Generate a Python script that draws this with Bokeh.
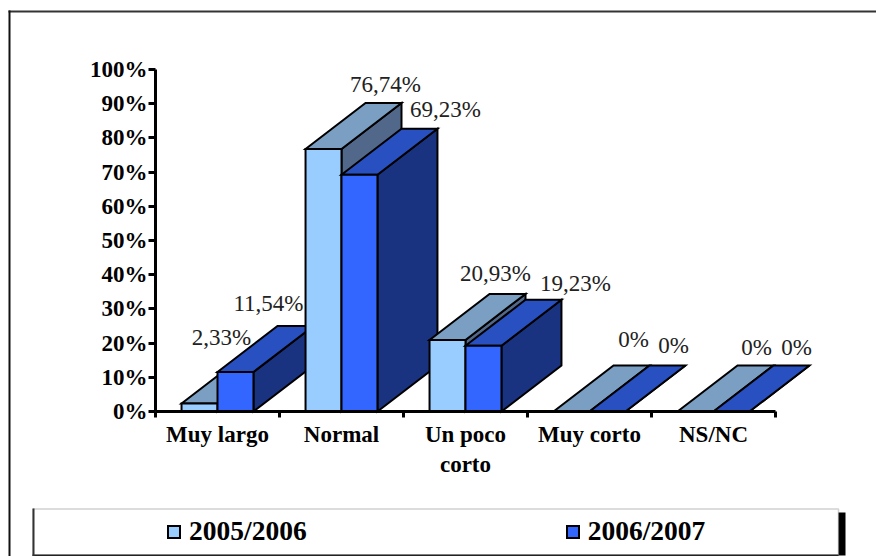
from bokeh.plotting import figure
from bokeh.embed import file_html
from bokeh.resources import INLINE
from bokeh.models import (ColumnDataSource, FixedTicker, PrintfTickFormatter, BoxAnnotation,
                          Legend, LegendItem, Range1d)
from bokeh.core.properties import value

categories = ["Muy largo", "Normal", "Un poco\ncorto", "Muy corto", "NS/NC"]
series_names = ["2005/2006", "2006/2007"]
values_2005 = [2.33, 76.74, 20.93, 0, 0]
values_2006 = [11.54, 69.23, 19.23, 0, 0]
labels_2005 = ["2,33%", "76,74%", "20,93%", "0%", "0%"]
labels_2006 = ["11,54%", "69,23%", "19,23%", "0%", "0%"]
y_ticks = [0, 10, 20, 30, 40, 50, 60, 70, 80, 90, 100]

# layout
W, H = 876, 556
LEFT, ZERO_Y, PX_UNIT_X, PX_UNIT_Y = 155, 411, 124, 3.42
GAP, BAR = 0.21, 0.29
DX, DY = 60 / PX_UNIT_X, 46 / PX_UNIT_Y
SERIF = "Liberation Serif"

FRONT = ["#99CCFF", "#3366FF"]
TOP = ["#7A9FC2", "#2850C0"]
SIDE = ["#52688A", "#1A3380"]

label_dx = [[22, 62, 48, 62, 61], [33, 86, 92, 66, 65]]
label_dy = [[-66, -65, -66, -72, -64], [-69, -65, -62, -66, -64]]

p = figure(width=W, height=H, output_backend="svg", toolbar_location=None,
           x_range=Range1d(-LEFT / PX_UNIT_X, (W - LEFT) / PX_UNIT_X),
           y_range=Range1d((ZERO_Y - H) / PX_UNIT_Y, ZERO_Y / PX_UNIT_Y),
           min_border=0, outline_line_color=None, background_fill_color="white")
p.grid.visible = False


def box(left, right, top, bottom, fill, line=None, lw=1):
    # page pixels -> frame-relative screen units (y counted from the bottom)
    p.add_layout(BoxAnnotation(left=left, right=right, top=H - top, bottom=H - bottom,
                               left_units="screen", right_units="screen",
                               top_units="screen", bottom_units="screen",
                               fill_color=fill, fill_alpha=1, line_color=line, line_width=lw,
                               editable=False))


# 3-D columns, painted back to front in one patches renderer
xs, ys, fills = [], [], []
front_index = [None, None]
all_values = [values_2005, values_2006]
for i in range(len(categories)):
    for s, vals in enumerate(all_values):
        v = vals[i]
        x0 = i + GAP + BAR * s
        x1 = x0 + BAR
        xs.append([x1, x1 + DX, x1 + DX, x1]); ys.append([0, DY, v + DY, v]); fills.append(SIDE[s])
        xs.append([x0, x0 + DX, x1 + DX, x1]); ys.append([v, v + DY, v + DY, v]); fills.append(TOP[s])
        xs.append([x0, x1, x1, x0]); ys.append([0, 0, v, v]); fills.append(FRONT[s])
        if i == 0:
            front_index[s] = len(xs) - 1
faces = p.patches(xs="xs", ys="ys", fill_color="fill",
                  source=ColumnDataSource(dict(xs=xs, ys=ys, fill=fills)),
                  line_color="black", line_width=2, line_join="miter")

# value labels
lx, ly, lt, ldx, ldy = [], [], [], [], []
for s, (vals, labs) in enumerate(zip(all_values, [labels_2005, labels_2006])):
    for i in range(len(categories)):
        lx.append(i + GAP + BAR * (s + 0.5)); ly.append(vals[i]); lt.append(labs[i])
        ldx.append(label_dx[s][i]); ldy.append(label_dy[s][i])
p.text(x="x", y="y", text="t", x_offset="dx", y_offset="dy",
       source=ColumnDataSource(dict(x=lx, y=ly, t=lt, dx=ldx, dy=ldy)),
       text_font=value(SERIF), text_font_size="23px", text_color="#222222",
       text_align="center", text_baseline="alphabetic")

# axes
ya = p.yaxis[0]
ya.fixed_location = 0
ya.ticker = FixedTicker(ticks=y_ticks)
ya.formatter = PrintfTickFormatter(format="%d%%")
ya.bounds = (0, 100)
ya.axis_line_width = 3
ya.axis_line_color = "black"
ya.major_tick_line_width = 3
ya.major_tick_in = 0
ya.major_tick_out = 7
ya.minor_tick_line_color = None
ya.major_label_standoff = 1
ya.major_label_text_font = SERIF
ya.major_label_text_font_style = "bold"
ya.major_label_text_font_size = "23px"
ya.major_label_text_color = "black"

xa = p.xaxis[0]
n = len(categories)
xa.fixed_location = 0
xa.ticker = FixedTicker(ticks=[i + 0.5 for i in range(n)], minor_ticks=list(range(n + 1)))
xa.major_label_overrides = {i + 0.5: c for i, c in enumerate(categories)}
xa.bounds = (0, n)
xa.axis_line_width = 3
xa.axis_line_color = "black"
xa.major_tick_line_color = None
xa.major_tick_in = 0
xa.major_tick_out = 0
xa.minor_tick_line_width = 3
xa.minor_tick_line_color = "black"
xa.minor_tick_in = 0
xa.minor_tick_out = 6
xa.major_label_standoff = 4
xa.major_label_text_font = SERIF
xa.major_label_text_font_style = "bold"
xa.major_label_text_font_size = "23px"
xa.major_label_text_color = "black"

# chart frame: top and left only
box(8, 876, 10, 12, "#333333")
box(8, 10, 10, 556, "#111111")
# legend box with shadow
box(800, 845, 512, 555, "black")
box(32.5, 838, 508.5, 554.5, "white", "#666666", 1.5)
box(32, 838, 554, 556, "#222222")
box(32, 34, 508, 556, "#333333")

legend = Legend(items=[LegendItem(label=series_names[k], renderers=[faces], index=front_index[k]) for k in range(2)],
                orientation="horizontal", location=(166, H - 547), padding=0, margin=0, spacing=258,
                glyph_width=15, glyph_height=15, label_standoff=8,
                border_line_color=None, background_fill_alpha=0,
                label_text_font=SERIF, label_text_font_style="bold", label_text_font_size="27.5px",
                label_text_color="black")
p.add_layout(legend)

open("out.html", "w").write(file_html(p, INLINE))
